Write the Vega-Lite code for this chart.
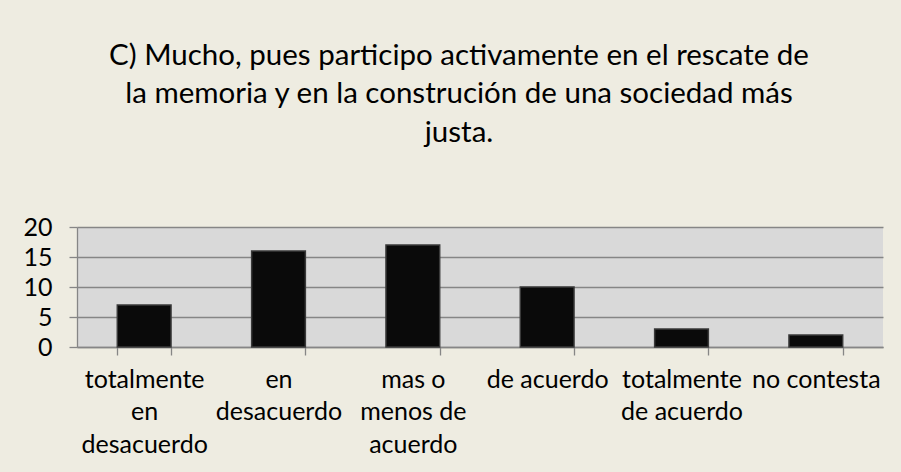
{
  "$schema": "https://vega.github.io/schema/vega-lite/v6.json",
  "autosize": "none",
  "width": 806,
  "height": 120,
  "padding": {"left": 77, "top": 227, "right": 18, "bottom": 125},
  "background": "#EEECE1",
  "title": {
    "text": ["C) Mucho, pues participo activamente en el rescate de", "la memoria y en la construción de una sociedad más", "justa."],
    "font": "Lato",
    "fontSize": 29.5,
    "fontWeight": "normal",
    "color": "#000000",
    "lineHeight": 38.5,
    "anchor": "middle",
    "baseline": "bottom",
    "dx": -21,
    "offset": 38
  },
  "data": {
    "values": [
      {"categoria": "totalmente en desacuerdo", "valor": 7},
      {"categoria": "en desacuerdo", "valor": 16},
      {"categoria": "mas o menos de acuerdo", "valor": 17},
      {"categoria": "de acuerdo", "valor": 10},
      {"categoria": "totalmente de acuerdo", "valor": 3},
      {"categoria": "no contesta", "valor": 2}
    ]
  },
  "mark": {"type": "bar", "color": "#0a0a0a", "stroke": "#3a3a3a", "strokeWidth": 1.5},
  "encoding": {
    "x": {
      "field": "categoria",
      "type": "nominal",
      "sort": null,
      "scale": {"paddingInner": 0.6, "paddingOuter": 0.3},
      "axis": {
        "title": null,
        "labelAngle": 0,
        "labelFont": "Lato",
        "labelFontSize": 25,
        "labelColor": "#000000",
        "labelLineHeight": 32.5,
        "labelPadding": 12,
        "labelLimit": 0,
        "tickBand": "extent",
        "tickSize": 8,
        "tickColor": "#868686",
        "tickWidth": 1.3,
        "domainColor": "#868686",
        "domainWidth": 1.3,
        "labelExpr": "datum.label == 'totalmente en desacuerdo' ? ['totalmente', 'en', 'desacuerdo'] : datum.label == 'en desacuerdo' ? ['en', 'desacuerdo'] : datum.label == 'mas o menos de acuerdo' ? ['mas o', 'menos de', 'acuerdo'] : datum.label == 'totalmente de acuerdo' ? ['totalmente', 'de acuerdo'] : datum.label"
      }
    },
    "y": {
      "field": "valor",
      "type": "quantitative",
      "scale": {"domain": [0, 20], "nice": false},
      "axis": {
        "title": null,
        "values": [0, 5, 10, 15, 20],
        "labelFont": "Lato",
        "labelFontSize": 25,
        "labelColor": "#000000",
        "labelPadding": 17,
        "tickSize": 8,
        "tickColor": "#868686",
        "tickWidth": 1.3,
        "domainColor": "#868686",
        "domainWidth": 1.3,
        "gridColor": "#868686",
        "gridWidth": 1.3,
        "gridOpacity": 1
      }
    }
  },
  "config": {
    "view": {"fill": "#D9D9D9", "stroke": null}
  }
}
